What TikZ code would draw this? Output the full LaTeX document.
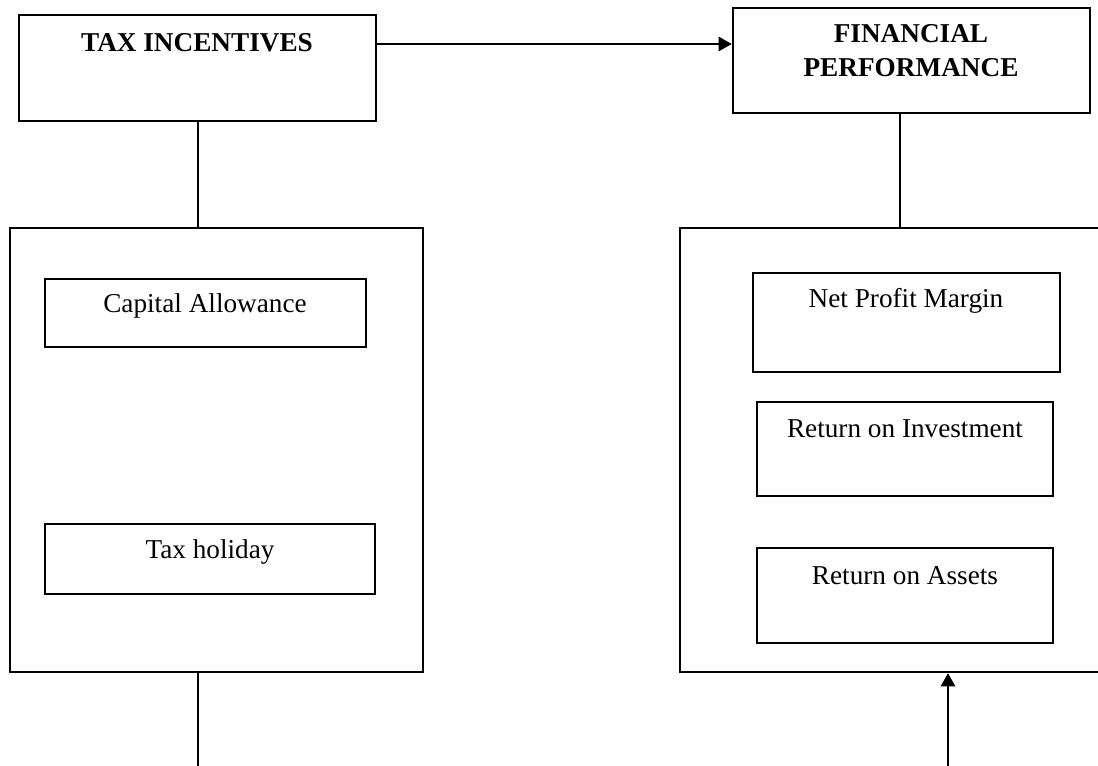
\documentclass[tikz,border=0pt]{standalone}
\usepackage{fontspec}
\setmainfont{Liberation Serif}
\usetikzlibrary{fit,arrows.meta}
\begin{document}
\begin{tikzpicture}[x=0.02cm,y=-0.02cm,
  box/.style={draw=black,line width=1.3pt,inner sep=0pt,rectangle},
  txt/.style={font=\fontsize{15.5}{18}\selectfont,inner sep=0pt,anchor=base},
  btxt/.style={font=\fontsize{15.5}{18}\selectfont\bfseries,inner sep=0pt,anchor=base},
  conn/.style={line width=1.3pt},
  arr/.style={line width=1.5pt,-{Triangle[length=7.5pt,width=8pt]}}]
\useasboundingbox (0,0) rectangle (1098,766);
\clip (0,0) rectangle (1098,766);
% main boxes
\node[box,fit={(19,15) (376,121)}] (ti) {};
\node[box,fit={(733,8) (1090,113)}] (fp) {};
\node[box,fit={(10,228) (423,672)}] (lbig) {};
\node[box,fit={(680,228) (1110,672)}] (rbig) {};
% inner boxes
\node[box,fit={(45,279) (366,347)}] (ca) {};
\node[box,fit={(45,524) (375,594)}] (th) {};
\node[box,fit={(753,273) (1060,372)}] (npm) {};
\node[box,fit={(757,402) (1053,496)}] (roi) {};
\node[box,fit={(757,548) (1053,643)}] (roa) {};
% texts
\node[btxt] (tit) at (197,52) {TAX INCENTIVES};
\node[btxt] (fpt1) at (911,43) {FINANCIAL};
\node[btxt] (fpt2) at (911,77) {PERFORMANCE};
\node[txt] (cat) at (205,313) {Capital Allowance};
\node[txt] (tht) at (210,558) {Tax holiday};
\node[txt] (npmt) at (906,308) {Net Profit Margin};
\node[txt] (roit) at (905,438) {Return on Investment};
\node[txt] (roat) at (905,584) {Return on Assets};
% connectors
\coordinate (ay) at (0,44);
\coordinate (c1) at (900,0);
\coordinate (lb) at (198,766);
\coordinate (rb) at (948,766);
\draw[arr] (ti.east |- ay) -- (fp.west |- ay);
\draw[conn] (ti.south -| lb) -- (lbig.north -| lb);
\draw[conn] (fp.south -| c1) -- (rbig.north -| c1);
\draw[conn] (lbig.south -| lb) -- (lb);
\draw[arr] (rb) -- (rbig.south -| rb);
\end{tikzpicture}
\end{document}
